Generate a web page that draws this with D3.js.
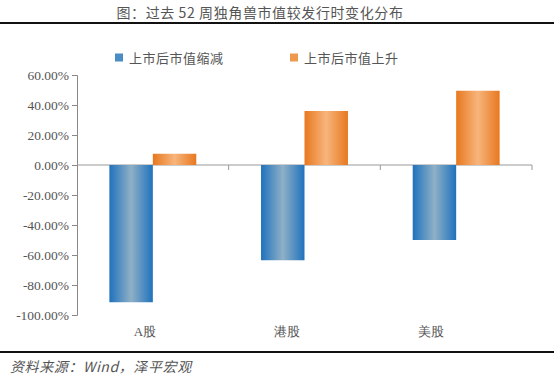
<!DOCTYPE html>
<html><head><meta charset="utf-8">
<script src="https://cdn.jsdelivr.net/npm/d3@7"></script>
<style>
html,body{margin:0;padding:0;background:#fff;}
svg{display:block;}
.serif{font-family:"Liberation Serif", serif;}
</style></head>
<body><svg id="c" width="554" height="379"></svg>
<script>
const categories = ["A股", "港股", "美股"];
const seriesNames = ["上市后市值缩减", "上市后市值上升"];
const decline = [-91.5, -63.5, -50.0];
const rise = [7.5, 36.0, 49.5];
const yTicks = [60, 40, 20, 0, -20, -40, -60, -80, -100];
const titleText = "图：过去 52 周独角兽市值较发行时变化分布";
const sourceText = "资料来源：Wind，泽平宏观";

const svg = d3.select("#c");
const defs = svg.append("defs");
function grad(id, edge, mid){
  const g = defs.append("linearGradient").attr("id", id).attr("x1","0").attr("x2","1").attr("y1","0").attr("y2","0");
  g.append("stop").attr("offset","0%").attr("stop-color", edge);
  g.append("stop").attr("offset","50%").attr("stop-color", mid);
  g.append("stop").attr("offset","100%").attr("stop-color", edge);
}
grad("gBlue", "#1f72bd", "#8fb0c6");
grad("gOrange", "#e8781f", "#f7b57c");

const cjk = "'Noto Sans CJK SC','Noto Sans',sans-serif";

// title
svg.append("text").attr("x", 260).attr("y", 18).attr("text-anchor","middle")
  .style("font-family", cjk).attr("font-size", 14).attr("fill","#555")
  .attr("letter-spacing", 0.6).text(titleText);
svg.append("line").attr("x1",0).attr("x2",554).attr("y1",23).attr("y2",23).attr("stroke","#111").attr("stroke-width",2);
svg.append("line").attr("x1",0).attr("x2",554).attr("y1",352).attr("y2",352).attr("stroke","#111").attr("stroke-width",2);
svg.append("text").attr("x", 10).attr("y", 372).style("font-family", cjk).attr("font-style","italic")
  .attr("font-size", 14).attr("letter-spacing", 0.6).attr("fill","#555").text(sourceText);

const x0 = d3.scaleBand().domain(categories).range([77, 532]).paddingInner(0).paddingOuter(0);
const x1 = d3.scaleBand().domain(seriesNames).range([0, x0.bandwidth()]).paddingInner(0).paddingOuter(0.745);
const y = d3.scaleLinear().domain([-100, 60]).range([315, 75]);

// y axis
const yAxis = d3.axisLeft(y).tickValues(yTicks).tickSize(5).tickPadding(3).tickFormat(d => d.toFixed(2) + "%");
const ga = svg.append("g").attr("transform","translate(77,0)").call(yAxis);
ga.attr("font-family", null).attr("font-size", null).attr("class", "serif");
ga.select(".domain").attr("stroke","#888");
ga.selectAll(".tick line").attr("stroke","#888");
ga.selectAll(".tick text").attr("font-size", 13.5).attr("fill","#555");

// x axis at zero
const xAxis = d3.axisBottom(x0).tickSize(0).tickFormat("");
const gx = svg.append("g").attr("transform", `translate(0,${y(0)})`).call(xAxis);
gx.select(".domain").attr("stroke","#999").attr("stroke-width",1.2).attr("d", `M77,0H532`);
gx.selectAll(".bt").data([1,2,3]).enter().append("line")
  .attr("x1",d=>x0.range()[0] + x0.step()*d).attr("x2",d=>x0.range()[0] + x0.step()*d)
  .attr("y1",0).attr("y2",5).attr("stroke","#999");

// bars
const data = categories.map((c,i)=>({c, vals:[{s:seriesNames[0], v:decline[i]},{s:seriesNames[1], v:rise[i]}]}));
const fills = {[seriesNames[0]]:"url(#gBlue)", [seriesNames[1]]:"url(#gOrange)"};
svg.append("g").selectAll("g").data(data).enter().append("g")
  .attr("transform", d=>`translate(${x0(d.c)},0)`)
  .selectAll("rect").data(d=>d.vals).enter().append("rect")
  .attr("x", d=>x1(d.s)).attr("width", x1.bandwidth())
  .attr("y", d=>y(Math.max(0,d.v))).attr("height", d=>Math.abs(y(d.v)-y(0)))
  .attr("fill", d=>fills[d.s]);

// category labels
const labelOffset = [-8, -18, -25];
svg.append("g").selectAll("text").data(categories).enter().append("text")
  .attr("class","serif")
  .attr("x", (d,i)=>x0(d)+x0.bandwidth()/2 + labelOffset[i]).attr("y", 336).attr("text-anchor","middle")
  .attr("font-size", 13).attr("fill","#555").text(d=>d);

// legend
const legX = [115, 290];
const lg = svg.append("g").selectAll("g").data(seriesNames).enter().append("g")
  .attr("transform",(d,i)=>`translate(${legX[i]},58)`);
lg.append("rect").attr("x",0).attr("y",-4.5).attr("width",8).attr("height",8).attr("fill",(d,i)=>i?"#ee9a4e":"#4a8cc4");
lg.append("text").attr("x",14).attr("y",0).attr("dy","0.35em").style("font-family", cjk)
  .attr("font-size",13).attr("letter-spacing",0.5).attr("fill","#555").text(d=>d);
</script></body></html>
